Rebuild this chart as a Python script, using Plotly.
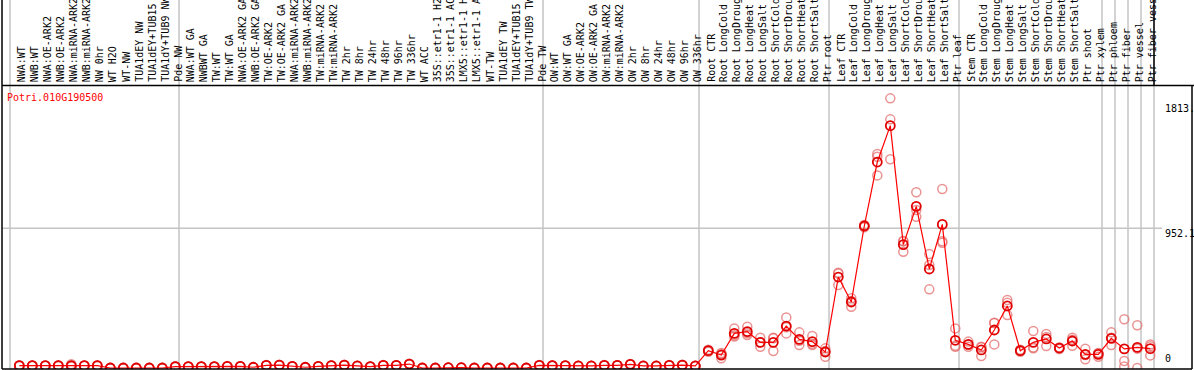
import plotly.graph_objects as go

gene = "Potri.010G190500"

labels = [
    "NWA:WT", "NWB:WT", "NWA:OE-ARK2", "NWB:OE-ARK2", "NWA:miRNA-ARK2", "NWB:miRNA-ARK2",
    "NW 0hr", "WT H2O", "WT-NW", "TUA1dEY NW", "TUA1dEY+TUB15 NW", "TUA1dY+TUB9 NW", "Pde NW",
    "NWA:WT GA", "NWBWT GA", "TW:WT", "TW:WT GA", "NWA:OE-ARK2 GA", "NWB:OE-ARK2 GA",
    "TW:OE-ARK2", "TW:OE-ARK2 GA", "NWA:miRNA-ARK2 GA", "NWB:miRNA-ARK2 GA", "TW:miRNA-ARK2",
    "TW:miRNA-ARK2", "TW 2hr", "TW 8hr", "TW 24hr", "TW 48hr", "TW 96hr", "TW 336hr", "WT ACC",
    "35S::etr1-1 H2O", "35S::etr1-1 ACC", "LMX5::etr1-1 H2O", "LMX5::etr1-1 ACC", "WT-TW",
    "TUA1dEY TW", "TUA1dEY+TUB15 TW", "TUA1dY+TUB9 TW", "Pde TW",
    "OW:WT", "OW:WT GA", "OW:OE-ARK2", "OW:OE-ARK2 GA", "OW:miRNA-ARK2", "OW:miRNA-ARK2",
    "OW 2hr", "OW 8hr", "OW 24hr", "OW 48hr", "OW 96hr", "OW 336hr",
    "Root CTR", "Root LongCold", "Root LongDrought", "Root LongHeat", "Root LongSalt",
    "Root ShortCold", "Root ShortDrought", "Root ShortHeat", "Root ShortSalt", "Ptr root",
    "Leaf CTR", "Leaf LongCold", "Leaf LongDrought", "Leaf LongHeat", "Leaf LongSalt",
    "Leaf ShortCold", "Leaf ShortDrought", "Leaf ShortHeat", "Leaf ShortSalt", "Ptr leaf",
    "Stem CTR", "Stem LongCold", "Stem LongDrought", "Stem LongHeat", "Stem LongSalt",
    "Stem ShortCold", "Stem ShortDrought", "Stem ShortHeat", "Stem ShortSalt", "Ptr shoot",
    "Ptr xylem", "Ptr phloem", "Ptr fiber", "Ptr vessel", "Ptr fiber vessel",
]

# number of samples in each experiment block (separated by grey lines)
group_sizes = [13, 28, 12, 10, 10, 11, 1, 1, 1, 1]

mean_values = [
    16, 16, 16, 16, 16, 16, 16, 0, 0, 0, 0, 0, 9,
    9, 9, 9, 11, 11, 5, 18, 20, 11, 5, 11, 16, 20, 14,
    9, 18, 18, 27, 0, 0, 2, 2, 0, 0, 0, 0, 0, 18,
    16, 16, 14, 14, 18, 18, 25, 14, 14, 18, 20, 14,
    118, 88, 236, 248, 175, 175, 286, 195, 180, 109,
    620, 450, 968, 1404, 1652, 841, 1102, 675, 979, 189,
    161, 123, 259, 423, 118, 175, 198, 136, 184, 93, 93,
    202, 130, 141, 132,
]

rep_a = [
    18, 17, 15, 18, 25, 17, 18, 1, 0, 2, 1, 0, 12,
    11, 10, 8, 13, 12, 6, 20, 23, 12, 6, 12, 18, 22, 15,
    10, 20, 19, 29, 1, 0, 3, 3, 0, 1, 0, 0, 0, 20,
    18, 17, 15, 15, 20, 19, 27, 15, 15, 20, 22, 15,
    125, 66, 270, 282, 207, 202, 345, 243, 218, 134,
    650, 475, 975, 1459, 1838, 866, 1198, 777, 1220, 270,
    180, 145, 309, 464, 125, 252, 232, 140, 207, 132, 77,
    243, 332, 291, 161,
]
rep_b = [
    14, 15, 17, 14, 12, 16, 14, 0, 1, 0, 0, 1, 7,
    8, 9, 10, 10, 10, 4, 17, 18, 10, 4, 10, 15, 19, 13,
    8, 17, 17, 25, 0, 1, 1, 2, 1, 0, 0, 1, 0, 17,
    15, 15, 13, 13, 17, 17, 24, 13, 13, 17, 19, 13,
    110, 95, 214, 225, 145, 116, 236, 157, 157, 77,
    566, 418, 960, 1313, 1695, 793, 1031, 702, 864, 145,
    145, 82, 161, 361, 110, 134, 150, 130, 152, 59, 100,
    157, 48, 0, 86,
]
rep_c = [
    16, 16, 16, 16, 11, 15, 16, 0, 0, 0, 0, 0, 8,
    8, 8, 9, 10, 11, 5, 17, 19, 11, 5, 11, 15, 19, 14,
    9, 17, 18, 27, 0, 0, 2, 1, 0, 0, 1, 0, 1, 17,
    15, 16, 14, 14, 17, 18, 24, 14, 14, 17, 19, 14,
    118, 103, 224, 237, 173, 207, 277, 185, 165, 116,
    644, 457, 969, 1440, 1423, 864, 1077, 536, 853, 152,
    158, 142, 307, 444, 119, 139, 212, 138, 193, 88, 102,
    206, 10, 132, 149,
]

y_ticks = [0, 952.1, 1813]
y_tick_text = ["0", "952.1", "1813."]

# ---------------------------------------------------------------
W, H = 1194, 370
ML, MR, MT, MB = 2, 2, 86, 1
PW, PH = W - ML - MR, H - MT - MB
XMIN, XMAX = -1.331, 90.208
YMIN, YMAX = -6.8, 1922.3

idx = list(range(len(labels)))
mono = "DejaVu Sans Mono"

fig = go.Figure()

rep_x, rep_y = [], []
for reps in (rep_a, rep_b, rep_c):
    for i, v in enumerate(reps):
        rep_x.append(i)
        rep_y.append(v)

fig.add_trace(go.Scatter(
    x=rep_x, y=rep_y, mode="markers",
    marker=dict(symbol="circle-open", size=9, color="rgba(228,110,110,0.75)",
                line=dict(width=1.5, color="rgba(228,110,110,0.75)")),
    hoverinfo="skip", showlegend=False,
))
fig.add_trace(go.Scatter(
    x=idx, y=mean_values, mode="lines+markers",
    line=dict(color="#ff0000", width=1.2),
    marker=dict(symbol="circle-open", size=9, color="#e00000",
                line=dict(width=1.8, color="#e00000")),
    showlegend=False,
))


def xpaper(xv):
    return (xv - XMIN) / (XMAX - XMIN)


def ypaper_px(py):
    return (H - MB - py) / PH


shapes = []
# grey separators between experiment blocks
start = 0
bounds = [start]
for g in group_sizes:
    start += g
    bounds.append(start)
for b in bounds:
    xp = xpaper(b - 0.715)
    shapes.append(dict(type="line", xref="paper", yref="paper", x0=xp, x1=xp,
                       y0=0, y1=ypaper_px(0), line=dict(color="#c4c4c4", width=1.5),
                       layer="below"))
# horizontal grid at middle tick
shapes.append(dict(type="line", xref="paper", yref="y", x0=0, x1=(1162 - ML) / PW,
                   y0=y_ticks[1], y1=y_ticks[1], line=dict(color="#c4c4c4", width=1.5),
                   layer="below"))
# black frame lines
black = dict(color="#000000", width=1.5)
shapes.append(dict(type="line", xref="paper", yref="paper", x0=0, x1=1 + MR / PW,
                   y0=ypaper_px(85.5), y1=ypaper_px(85.5), line=black))
shapes.append(dict(type="line", xref="paper", yref="paper", x0=0, x1=0,
                   y0=0, y1=ypaper_px(0), line=black))
xh = xpaper(bounds[-1] - 0.715)
shapes.append(dict(type="line", xref="paper", yref="paper", x0=xh, x1=xh,
                   y0=ypaper_px(85.5), y1=ypaper_px(0), line=black))
shapes.append(dict(type="line", xref="paper", yref="paper", x0=1, x1=1,
                   y0=0, y1=1, line=black))
shapes.append(dict(type="line", xref="paper", yref="paper", x0=0, x1=1,
                   y0=0, y1=0, line=black))

annotations = [
    dict(text=gene, xref="paper", yref="paper", x=(5 - ML) / PW, y=ypaper_px(97),
         xanchor="left", yanchor="middle", showarrow=False,
         font=dict(family=mono, size=10, color="#ff0000")),
]
for v, t in zip(y_ticks, y_tick_text):
    annotations.append(dict(
        text=t, xref="paper", yref="y", x=(1163 - ML) / PW, y=v,
        xanchor="left", yanchor="bottom" if v == 0 else "top",
        yshift=2 if v == 0 else (1 if v > 1000 else 2), showarrow=False,
        font=dict(family=mono, size=10, color="#000000")))
# vertical sample labels in the header band
for i, lab in zip(idx, labels):
    annotations.append(dict(
        text=lab, xref="x", yref="paper", x=i, y=ypaper_px(83),
        xanchor="center", yanchor="bottom", textangle=-90, xshift=3,
        showarrow=False, borderpad=0,
        font=dict(family=mono, size=10, color="#000000")))

fig.update_layout(
    width=W, height=H,
    margin=dict(l=ML, r=MR, t=MT, b=MB, pad=0),
    paper_bgcolor="white", plot_bgcolor="white",
    hovermode=False,
    shapes=shapes, annotations=annotations,
    xaxis=dict(range=[XMIN, XMAX], showticklabels=False, ticks="", showgrid=False,
               zeroline=False, showline=False, automargin=False),
    yaxis=dict(range=[YMIN, YMAX], showticklabels=False, showgrid=False,
               zeroline=False, showline=False, automargin=False, ticks=""),
)

fig.write_html("out.html",
               config={"displayModeBar": False, "staticPlot": True},
               post_script="document.body.style.margin='0';document.body.style.overflow='hidden';")
